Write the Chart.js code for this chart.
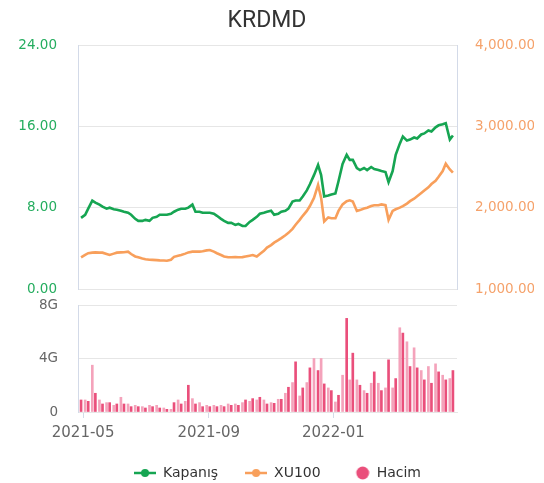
<!DOCTYPE html>
<html><head><meta charset="utf-8">
<script src="https://cdn.jsdelivr.net/npm/chart.js@4/dist/chart.umd.min.js"></script>
<style>
html,body{margin:0;padding:0;background:#fff;overflow:hidden;width:544px;height:483px;}
#top{position:absolute;left:0;top:0;width:544px;height:300px;}
#bot{position:absolute;left:0;top:295px;width:544px;height:195px;}
</style></head><body>
<div id="top"><canvas id="c1"></canvas></div>
<div id="bot"><canvas id="c2"></canvas></div>
<script>
const dates = [
'2021-04-29','2021-05-03','2021-05-06','2021-05-10','2021-05-13','2021-05-17','2021-05-20','2021-05-24','2021-05-27','2021-05-31',
'2021-06-03','2021-06-07','2021-06-10','2021-06-14','2021-06-17','2021-06-21','2021-06-24','2021-06-28',
'2021-07-01','2021-07-05','2021-07-08','2021-07-12','2021-07-15','2021-07-19','2021-07-22','2021-07-26','2021-07-29',
'2021-08-02','2021-08-05','2021-08-09','2021-08-12','2021-08-16','2021-08-19','2021-08-23','2021-08-26','2021-08-30',
'2021-09-02','2021-09-06','2021-09-09','2021-09-13','2021-09-16','2021-09-20','2021-09-23','2021-09-27','2021-09-30',
'2021-10-04','2021-10-07','2021-10-11','2021-10-14','2021-10-18','2021-10-21','2021-10-25','2021-10-28',
'2021-11-01','2021-11-04','2021-11-08','2021-11-11','2021-11-15','2021-11-18','2021-11-22','2021-11-25','2021-11-29',
'2021-12-02','2021-12-06','2021-12-09','2021-12-13','2021-12-17','2021-12-20','2021-12-23','2021-12-27','2021-12-30',
'2022-01-03','2022-01-06','2022-01-10','2022-01-14','2022-01-17','2022-01-20','2022-01-24','2022-01-27','2022-01-31',
'2022-02-03','2022-02-07','2022-02-10','2022-02-14','2022-02-17','2022-02-21','2022-02-24','2022-02-28',
'2022-03-03','2022-03-07','2022-03-10','2022-03-14','2022-03-17','2022-03-21','2022-03-24','2022-03-28','2022-03-31',
'2022-04-04','2022-04-07','2022-04-11','2022-04-14','2022-04-18','2022-04-21','2022-04-25','2022-04-28'
];
const kapanis = [
7.0,7.3,7.9,8.7,8.5,8.3,8.1,7.9,8.0,7.85,
7.8,7.7,7.6,7.5,7.3,6.9,6.7,6.7,
6.8,6.7,7.0,7.1,7.3,7.3,7.3,7.4,7.6,
7.8,7.9,7.9,8.0,8.3,7.6,7.6,7.5,7.5,
7.5,7.4,7.2,6.9,6.7,6.5,6.5,6.3,6.4,
6.2,6.2,6.6,6.8,7.1,7.4,7.5,7.6,
7.7,7.3,7.4,7.6,7.7,7.9,8.6,8.7,8.7,
9.1,9.7,10.3,11.2,12.2,11.2,9.1,9.2,9.3,
9.4,10.6,12.3,13.2,12.7,12.7,11.9,11.7,11.9,
11.7,12.0,11.8,11.7,11.6,11.5,10.5,11.6,
13.2,14.3,15.0,14.6,14.7,14.9,14.8,15.2,15.3,
15.6,15.5,15.9,16.1,16.2,16.3,14.7,15.1
];
const xu100 = [
1390,1420,1440,1447,1450,1447,1447,1430,1418,1435,
1447,1450,1452,1459,1430,1400,1390,1375,
1365,1360,1358,1355,1352,1350,1348,1360,1395,
1410,1418,1435,1450,1459,1460,1460,1465,1475,
1480,1460,1440,1418,1400,1390,1390,1392,1390,
1392,1400,1410,1418,1400,1430,1470,1510,
1540,1570,1600,1625,1660,1690,1740,1790,1850,
1900,1960,2020,2120,2280,2120,1830,1880,1870,
1870,1960,2040,2080,2090,2075,1960,1970,1990,
2000,2020,2030,2030,2040,2030,1850,1960,
1980,2000,2020,2050,2080,2110,2140,2180,2210,
2250,2290,2330,2380,2450,2540,2470,2430
];
// volume in billions (G)
const hacimG = [
0.9,0.9,0.8,3.5,1.4,0.9,0.6,0.7,0.7,0.5,
0.6,1.1,0.6,0.6,0.4,0.5,0.4,0.4,
0.3,0.5,0.4,0.5,0.3,0.3,0.2,0.2,0.7,
0.9,0.6,0.8,2.0,1.0,0.6,0.7,0.4,0.5,
0.4,0.5,0.4,0.5,0.4,0.6,0.5,0.6,0.5,
0.7,0.9,0.8,1.0,0.9,1.1,0.9,0.6,
0.7,0.65,0.95,0.95,1.4,1.85,2.2,3.75,1.2,
1.8,2.2,3.3,4.0,3.1,4.0,2.1,1.8,1.6,
0.75,1.25,2.75,7.0,2.4,4.4,2.4,2.0,1.6,
1.4,2.15,3.0,2.15,1.6,1.8,3.9,1.8,
2.5,6.3,5.9,5.25,3.4,4.8,3.3,3.1,2.4,
3.4,2.15,3.6,3.0,2.75,2.4,2.5,3.1
];
const tickDates = ['2021-05-01','2021-09-01','2022-01-01'];
const tickLabels = ['2021-05','2021-09','2022-01'];
const rangeStart = '2021-04-26', rangeEnd = '2022-05-02';

const BASE = Date.UTC(2021,4,1);
function dayOf(s){const p=s.split('-').map(Number);return (Date.UTC(p[0],p[1]-1,p[2])-BASE)/86400000;}
const xMin = dayOf(rangeStart), xMax = dayOf(rangeEnd);

const FONT = 'DejaVu Sans';
const GREEN = '#16a552', GREEN_T = '#25ad5f';
const ORANGE = '#f89f5b', ORANGE_T = '#f5a26b';
const PINK = '#ea4f7b', PINK_L = '#f4a3bb';
const GRID = '#e6e6e6', AXIS = '#d3dae8', CLEAR = 'rgba(0,0,0,0)';

Chart.defaults.font.family = FONT;

new Chart(document.getElementById('c1'), {
  type: 'line',
  data: { datasets: [
    { label: 'Kapanış', data: dates.map((d,i)=>({x:dayOf(d), y:kapanis[i]})), borderColor: GREEN, backgroundColor: GREEN,
      borderWidth: 2.6, pointRadius: 0, tension: 0, yAxisID: 'y' },
    { label: 'XU100', data: dates.map((d,i)=>({x:dayOf(d), y:xu100[i]})), borderColor: ORANGE, backgroundColor: ORANGE,
      borderWidth: 2.6, pointRadius: 0, tension: 0, yAxisID: 'y1' }
  ]},
  options: {
    responsive: true, maintainAspectRatio: false, animation: false,
    layout: { padding: { left: 0, right: 10, top: 0, bottom: 11 } },
    plugins: {
      legend: { display: false }, tooltip: { enabled: false },
      title: { display: true, text: 'KRDMD', color: '#333', font: { family: 'Roboto', size: 23, weight: 'normal' },
        padding: { top: 7, bottom: 10.4 } }
    },
    scales: {
      x: { type: 'linear', min: xMin, max: xMax, display: false },
      y: { position: 'left', min: 0, max: 24,
        ticks: { stepSize: 8, callback: v => v.toFixed(2), color: GREEN_T, font: { size: 13.5 }, padding: 1 },
        grid: { color: GRID, drawTicks: true, tickLength: 20, tickColor: CLEAR }, border: { color: AXIS },
        afterFit: s => { s.width = 78; } },
      y1: { position: 'right', min: 1000, max: 4000,
        ticks: { stepSize: 1000, callback: v => v.toLocaleString('en-US',{minimumFractionDigits:2, maximumFractionDigits:2}),
          color: ORANGE_T, font: { size: 13.5 }, padding: 1 },
        grid: { drawOnChartArea: false, drawTicks: true, tickLength: 17, tickColor: CLEAR }, border: { color: AXIS },
        afterFit: s => { s.width = 77; } }
    }
  }
});

function lineIcon(color){
  const c=document.createElement('canvas'); c.width=22; c.height=14;
  const g=c.getContext('2d'); g.strokeStyle=color; g.lineWidth=2.5;
  g.beginPath(); g.moveTo(0,7); g.lineTo(22,7); g.stroke();
  g.fillStyle=color; g.beginPath(); g.arc(11,7,4,0,Math.PI*2); g.fill(); return c;
}
function dotIcon(color){
  const c=document.createElement('canvas'); c.width=22; c.height=14;
  const g=c.getContext('2d'); g.fillStyle=color; g.beginPath(); g.arc(15,7,6.4,0,Math.PI*2); g.fill(); return c;
}
const icons = [lineIcon(GREEN), lineIcon(ORANGE), dotIcon(PINK)];

new Chart(document.getElementById('c2'), {
  type: 'bar',
  data: { datasets: [
    { type: 'line', label: 'Kapanış', data: [], borderColor: GREEN, backgroundColor: GREEN, yAxisID: 'yv' },
    { type: 'line', label: 'XU100', data: [], borderColor: ORANGE, backgroundColor: ORANGE, yAxisID: 'yv' },
    { type: 'bar', label: 'Hacim', data: dates.map((d,i)=>({x:dayOf(d), y:hacimG[i]*1e9})),
      backgroundColor: dates.map((d,i)=> i%2 ? PINK_L : PINK), barThickness: 2, yAxisID: 'yv' }
  ]},
  options: {
    responsive: true, maintainAspectRatio: false, animation: false,
    layout: { padding: { left: 11, right: 0, top: 10, bottom: 0 } },
    plugins: {
      tooltip: { enabled: false },
      legend: { position: 'bottom',
        labels: { usePointStyle: true, pointStyleWidth: 22, padding: 27, font: { size: 14 }, color: '#333',
          generateLabels: chart => chart.data.datasets.map((ds,i)=>({
            text: ds.label, pointStyle: icons[i], fillStyle: ds.borderColor || PINK, strokeStyle: ds.borderColor || PINK,
            lineWidth: 0, hidden: false, datasetIndex: i, fontColor: '#333' })) } }
    },
    scales: {
      x: { type: 'linear', min: xMin, max: xMax, offset: false,
        afterBuildTicks: s => { s.ticks = tickDates.map(d => ({ value: dayOf(d) })); },
        ticks: { autoSkip: false, maxRotation: 0, callback: (v,i) => tickLabels[i], color: '#666', font: { size: 15 }, padding: 6 },
        grid: { drawOnChartArea: false, offset: false, tickLength: 6, tickColor: AXIS }, border: { color: GRID },
        afterFit: s => { s.height = 27; } },
      yv: { position: 'left', min: 0, max: 8e9,
        ticks: { stepSize: 4e9, callback: v => v === 0 ? '0' : (v/1e9) + 'G', color: '#666', font: { size: 13.5 }, padding: 1 },
        grid: { color: GRID, drawTicks: true, tickLength: 19, tickColor: CLEAR }, border: { color: AXIS },
        afterFit: s => { s.width = 67; } },
      yr: { position: 'right', display: true, ticks: { display: false }, grid: { display: false }, border: { display: false },
        afterFit: s => { s.width = 87; } }
    }
  }
});
</script>
</body></html>
